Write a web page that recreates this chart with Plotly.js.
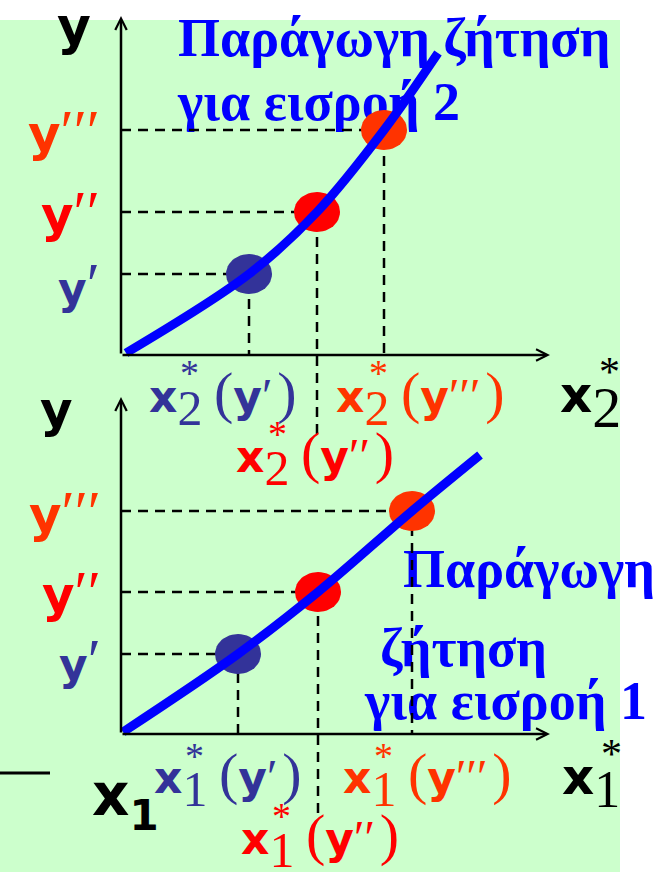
<!DOCTYPE html>
<html>
<head>
<meta charset="utf-8">
<script src="https://cdn.plot.ly/plotly-3.0.1.min.js"></script>
<style>html,body{margin:0;padding:0;background:#fff;}#chart{width:654px;height:872px;}</style>
</head>
<body>
<div id="chart"></div>
<script>
// ---- data (chart units: origin of each panel = 0,0) ----
const levelPrimes = ['′', '′′', '′′′'];   // y′, y″, y‴
// upper panel: input 2
const x2Star = [12.8, 19.6, 26.3];
const yLevelsTop = [8.1, 14.3, 22.5];
const curve2X = [0.5, 12.8, 19.6, 26.3, 31.7];
const curve2Y = [0.2, 8.1, 14.3, 22.5, 30.2];
// lower panel: input 1
const x1Star = [11.7, 19.7, 29.1];
const yLevelsBot = [8.0, 14.2, 22.3];
const curve1X = [0.2, 11.7, 19.7, 29.1, 35.9];
const curve1Y = [0.2, 8.0, 14.2, 22.3, 27.9];

// ---- layout helpers ----
const W = 654, H = 872, U = 10; // px per unit
const OX = 121;
const OY_TOP = 355, OY_BOT = 734;
const px = x => x / W, py = y => 1 - y / H;
const pointColors = ['#333399', '#FF0000', '#FF3300'];
const SERIF = 'Liberation Serif', SANS = 'DejaVu Sans';
const S = (t, s) => `<span style="font-family:${SANS};font-weight:bold;font-size:${s}px">${t}</span>`;
const R = (t, s) => `<span style="font-family:${SERIF};font-size:${s}px">${t}</span>`;

function panelTraces(xa, ya, xs, ys, cx, cy, dropExt) {
  const tr = [];
  xs.forEach((x, i) => {
    const bottom = (i === 1) ? dropExt : 0;
    tr.push({x: [0, x, x], y: [ys[i], ys[i], bottom], xaxis: xa, yaxis: ya, mode: 'lines',
      line: {color: '#000', width: 2.5, dash: '10px,7px'}, hoverinfo: 'skip', showlegend: false});
  });
  xs.forEach((x, i) => {
    const ex = [], ey = [];
    for (let k = 0; k <= 48; k++) {
      const t = 2 * Math.PI * k / 48;
      ex.push(x + 2.3 * Math.cos(t)); ey.push(ys[i] + 2.0 * Math.sin(t));
    }
    tr.push({x: ex, y: ey, xaxis: xa, yaxis: ya, mode: 'lines', fill: 'toself',
      fillcolor: pointColors[i], line: {width: 0, color: pointColors[i]}, hoverinfo: 'skip', showlegend: false});
  });
  tr.push({x: cx, y: cy, xaxis: xa, yaxis: ya, mode: 'lines',
    line: {color: '#0000FF', width: 9, shape: 'spline', smoothing: 1}, hoverinfo: 'skip', showlegend: false});
  return tr;
}

const gFont = {family: SERIF, size: 54, color: '#0000FF', weight: 'bold'};
const toTop = (x, y) => [(x - OX) / U, (OY_TOP - y) / U];
const toBot = (x, y) => [(x - OX) / U, (OY_BOT - y) / U];
const capTopPos = [toTop(178, 42), toTop(178, 106)];
const capBotPos = [toBot(403, 573), toBot(380, 652), toBot(365, 705)];
const captionTop = {x: capTopPos.map(p => p[0]), y: capTopPos.map(p => p[1]),
  text: ['Παράγωγη ζήτηση', 'για εισροή 2'], mode: 'text', textposition: 'middle right',
  textfont: gFont, cliponaxis: false, xaxis: 'x', yaxis: 'y', hoverinfo: 'skip', showlegend: false};
const captionBot = {x: capBotPos.map(p => p[0]), y: capBotPos.map(p => p[1]),
  text: ['Παράγωγη', 'ζήτηση', 'για εισροή 1'], mode: 'text', textposition: 'middle right',
  textfont: gFont, cliponaxis: false, xaxis: 'x2', yaxis: 'y2', hoverinfo: 'skip', showlegend: false};

const data = [captionTop, captionBot]
  .concat(panelTraces('x', 'y', x2Star, yLevelsTop, curve2X, curve2Y, -8.2))
  .concat(panelTraces('x2', 'y2', x1Star, yLevelsBot, curve1X, curve1Y, -8.6));

// ---- annotations ----
const ann = [];
function axisArrow(xr, yr, tipX, tipY) {
  ann.push({xref: xr, yref: yr, axref: xr, ayref: yr, x: tipX, y: tipY, ax: 0, ay: 0, text: '',
    showarrow: true, arrowhead: 5, arrowsize: 0.9, arrowwidth: 2.5, arrowcolor: '#000'});
}
axisArrow('x', 'y', (550 - OX) / U, 0);
axisArrow('x', 'y', 0, (OY_TOP - 16) / U);
axisArrow('x2', 'y2', (550 - OX) / U, 0);
axisArrow('x2', 'y2', 0, (OY_BOT - 397) / U);

function txt(x, y, text, opts) {
  ann.push(Object.assign({xref: 'paper', yref: 'paper', x: px(x), y: py(y), text: text, showarrow: false,
    xanchor: 'left', yanchor: 'middle', font: {family: SERIF, size: 48, color: '#000'}}, opts || {}));
}
const star = (x, y, c, s) => txt(x, y, '*', {xanchor: 'center', font: {family: SERIF, size: s || 38, color: c}});

// y-axis level labels
const yLabTop = [284, 212, 131], yLabBot = [660, 592, 512];
const ySize = [44, 50, 50];
levelPrimes.forEach((p, i) => {
  const lab = S('y', ySize[i]) + R(p, 60);
  txt(102, yLabTop[i], lab, {xanchor: 'right', font: {family: SERIF, size: 48, color: pointColors[i]}});
  txt(103, yLabBot[i], lab, {xanchor: 'right', font: {family: SERIF, size: 48, color: pointColors[i]}});
});
// axis names
txt(74, 26, S('y', 52), {xanchor: 'center'});
txt(56, 410, S('y', 50), {xanchor: 'center'});

// x* labels (base font size sets the subscript drop)
const xl = (n, p) => S('x', 44) + '<sub>' + R(n, 50) + '</sub>' + R('\u2009(', 58) + S('y', 44) + R(p, 48) + R('\u200A)', 58);
const top2 = [[147, 398], [234, 458], [334, 398]];
const bot1 = [[152, 779], [239, 840], [341, 779]];
const starTop = [[189, 373], [277, 434], [378, 373]];
const starBot = [[194, 756], [281, 816], [383, 756]];
levelPrimes.forEach((p, i) => {
  txt(top2[i][0], top2[i][1], xl('2', p), {font: {family: SERIF, size: 62, color: pointColors[i]}});
  txt(bot1[i][0], bot1[i][1], xl('1', p), {font: {family: SERIF, size: 62, color: pointColors[i]}});
  star(starTop[i][0], starTop[i][1], pointColors[i]);
  star(starBot[i][0], starBot[i][1], pointColors[i]);
});
// black axis names on x
txt(558, 403, S('x', 50) + '<sub>' + R('2', 58) + '</sub>', {font: {family: SERIF, size: 71, color: '#000'}});
star(609, 372, '#000', 42);
txt(560, 783, S('x', 50) + '<sub>' + R('1', 52) + '</sub>', {font: {family: SERIF, size: 62, color: '#000'}});
star(611, 754, '#000', 42);
txt(90, 800, S('x', 58) + '<sub>' + S('1', 42) + '</sub>', {font: {family: SERIF, size: 70, color: '#000'}});

const shapes = [
  {type: 'rect', xref: 'paper', yref: 'paper', x0: 0, x1: px(620), y0: 0, y1: py(20),
    fillcolor: '#CCFFCC', line: {width: 0}, layer: 'below'},
  {type: 'line', xref: 'paper', yref: 'paper', x0: 0, x1: px(50), y0: py(773), y1: py(773),
    line: {color: '#000', width: 3}}
];

const ax = (dom, rng) => ({domain: dom, range: rng, visible: false, fixedrange: true});
const layout = {
  width: W, height: H, margin: {l: 0, r: 0, t: 0, b: 0},
  paper_bgcolor: '#FFFFFF', plot_bgcolor: 'rgba(0,0,0,0)', showlegend: false,
  xaxis: ax([px(OX), px(600)], [0, (600 - OX) / U]),
  yaxis: ax([py(450), py(10)], [(OY_TOP - 450) / U, (OY_TOP - 10) / U]),
  xaxis2: ax([px(OX), px(600)], [0, (600 - OX) / U]),
  yaxis2: ax([py(835), py(390)], [(OY_BOT - 835) / U, (OY_BOT - 390) / U]),
  annotations: ann, shapes: shapes
};
layout.xaxis2.anchor = 'y2'; layout.yaxis2.anchor = 'x2';
Plotly.newPlot('chart', data, layout, {displayModeBar: false, staticPlot: true});
</script>
</body>
</html>
